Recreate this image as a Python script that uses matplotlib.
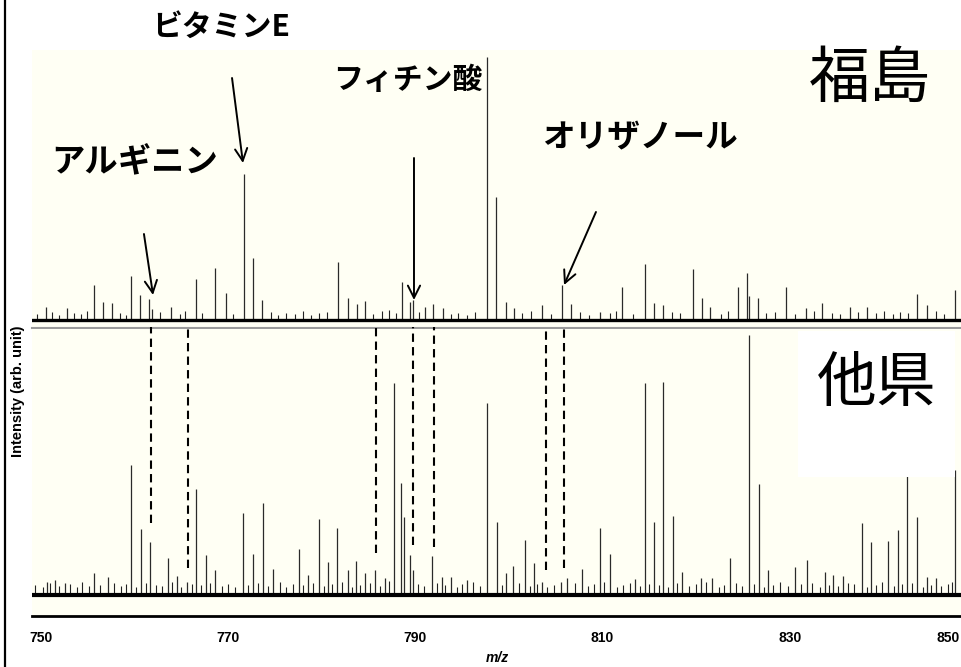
import matplotlib
matplotlib.use('Agg')

import matplotlib.pyplot as plt
from matplotlib.lines import Line2D
from matplotlib.patches import Rectangle

plt.rcParams['font.family'] = ['Liberation Sans', 'DejaVu Sans']
JP = ['Noto Sans CJK JP', 'DejaVu Sans']

# --- data (m/z and intensity, arb. unit) ---
# 福島 spectrum, main peaks
fuku_mz = [750.53, 752.78, 755.66, 756.62, 757.59, 759.62, 760.58, 761.54, 761.86, 763.89,
           766.56, 768.59, 769.76, 771.69, 772.65, 773.61, 781.73, 782.80, 783.76, 784.62,
           788.57, 789.42, 789.74, 791.03, 791.88, 792.95, 797.65, 798.61, 799.68, 800.53,
           803.53, 805.66, 806.62, 809.72, 812.07, 814.53, 815.49, 816.45, 819.66, 820.62,
           821.47, 824.47, 825.43, 825.64, 826.60, 829.59, 831.73, 833.44, 836.43, 838.25,
           843.59, 844.66, 847.65]
fuku_int = [13, 12, 35, 18, 17, 44, 25, 21, 11, 13,
            41, 52, 27, 146, 62, 20, 58, 22, 16, 19,
            38, 18, 20, 13, 16, 12, 263, 123, 18, 12,
            15, 35, 16, 8, 33, 56, 17, 15, 51, 22,
            13, 33, 47, 24, 22, 33, 12, 17, 13, 13,
            26, 15, 30]
# 福島 spectrum, small noise peaks
fuku_noise_mz = [749.6, 751.2, 751.9, 753.5, 754.3, 754.9, 758.4, 759.1, 762.7, 764.8,
                 765.4, 767.2, 770.5, 774.6, 775.3, 776.2, 777.1, 778.0, 778.8, 779.7,
                 780.6, 785.5, 786.4, 787.2, 787.9, 790.4, 793.8, 794.6, 795.5, 796.4,
                 801.4, 802.3, 804.5, 807.6, 808.5, 810.8, 811.4, 813.2, 817.4, 818.3,
                 822.6, 823.4, 827.5, 828.4, 830.6, 832.6, 834.5, 835.4, 837.3, 839.2,
                 840.1, 841.0, 841.8, 842.6, 845.6, 846.5]
fuku_noise_int = [6, 8, 5, 7, 6, 9, 7, 5, 8, 6,
                  9, 7, 6, 8, 5, 7, 6, 9, 5, 7,
                  8, 6, 9, 10, 7, 8, 6, 7, 5, 8,
                  7, 9, 6, 8, 5, 7, 9, 6, 8, 7,
                  6, 9, 7, 8, 6, 9, 7, 6, 8, 7,
                  9, 6, 8, 7, 9, 6]

# 他県 spectrum, main peaks
other_mz = [750.64, 751.50, 752.56, 755.66, 757.16, 759.62, 760.68, 761.65, 763.57, 764.53,
            765.60, 766.56, 767.63, 768.59, 771.58, 772.65, 773.72, 774.79, 777.56, 778.53,
            779.70, 780.66, 781.62, 782.80, 783.65, 784.62, 785.68, 786.75, 787.71, 788.50,
            788.80, 789.42, 789.74, 791.77, 792.84, 793.80, 795.51, 797.65, 798.72, 799.68,
            800.43, 801.71, 802.67, 803.53, 805.56, 806.20, 807.80, 809.72, 810.79, 813.46,
            814.53, 815.49, 816.45, 817.52, 818.48, 820.51, 821.69, 823.61, 825.64, 826.71,
            827.67, 830.56, 831.84, 833.76, 834.62, 835.68, 837.71, 838.68, 840.49, 841.56,
            842.52, 843.59, 844.66, 845.62, 847.65]
other_int = [13, 15, 12, 22, 18, 130, 66, 53, 37, 19,
             13, 106, 40, 25, 82, 41, 92, 26, 46, 20,
             76, 33, 67, 25, 34, 22, 25, 17, 212, 112,
             78, 40, 25, 39, 18, 18, 15, 192, 73, 22,
             29, 55, 32, 13, 13, 17, 26, 67, 41, 16,
             212, 73, 213, 79, 23, 17, 17, 37, 260, 111,
             25, 28, 35, 23, 20, 19, 72, 53, 54, 65,
             150, 78, 18, 17, 125]
# 他県 spectrum, small noise peaks
other_noise_mz = [749.4, 750.2, 751.0, 751.9, 753.1, 753.8, 754.4, 755.1, 756.3, 757.8,
                  758.5, 759.1, 760.2, 761.2, 762.3, 762.9, 764.0, 765.0, 766.1, 767.1,
                  768.1, 769.3, 770.0, 770.7, 772.1, 773.2, 774.2, 775.5, 776.2, 776.9,
                  778.0, 779.1, 780.2, 781.1, 782.2, 783.2, 784.1, 785.1, 786.2, 787.2,
                  790.3, 790.9, 792.3, 793.2, 794.4, 795.0, 796.2, 796.9, 799.2, 801.1,
                  802.2, 803.0, 804.1, 804.8, 807.1, 808.4, 809.1, 810.2, 811.5, 812.2,
                  812.9, 814.0, 815.0, 816.0, 817.0, 818.0, 819.2, 820.0, 821.1, 822.4,
                  823.0, 824.3, 824.9, 826.2, 827.2, 828.2, 829.0, 829.8, 831.2, 832.4,
                  833.2, 834.2, 835.2, 836.2, 836.9, 838.2, 839.2, 839.9, 841.1, 842.0,
                  843.1, 844.2, 845.1, 846.2, 846.9, 847.3]
other_noise_int = [10, 8, 12, 9, 11, 8, 13, 9, 10, 12,
                   9, 11, 8, 12, 10, 9, 13, 8, 11, 10,
                   12, 9, 11, 8, 10, 12, 9, 13, 8, 11,
                   10, 12, 9, 11, 13, 8, 10, 12, 9, 14,
                   11, 9, 12, 10, 8, 11, 13, 9, 10, 12,
                   9, 11, 8, 10, 12, 9, 11, 13, 8, 10,
                   12, 9, 11, 10, 8, 12, 9, 11, 13, 8,
                   10, 12, 9, 11, 8, 10, 13, 9, 11, 12,
                   8, 10, 9, 12, 11, 8, 10, 13, 9, 11,
                   12, 8, 10, 9, 11, 13]

# dashed guide lines (m/z, lower end in 他県 intensity)
guide_mz = [761.75, 765.71, 785.79, 789.74, 791.99, 803.95, 805.88]
guide_end = [72, 27, 42, 50, 48, 25, 27]

# compound labels: name, text position, arrow start, arrow tip
labels = ['ビタミンE', 'アルギニン', 'フィチン酸', 'オリザノール']
label_pos = [(769.23, 293), (760.04, 157), (789.21, 240), (814.0, 182)]
label_size = [21.5, 24, 21.5, 23.5]
arrow_from = [(770.41, 242), (761.00, 86), (789.85, 162), (809.29, 108)]
arrow_to = [(771.58, 157), (761.97, 25), (789.85, 20), (805.88, 35)]

tick_vals = [750, 770, 790, 810, 830]
XMIN, XMAX = 749.04, 848.29
BG = '#fffff4'

fig = plt.figure(figsize=(9.61, 6.67), dpi=100)
W, H = 961.0, 667.0
ax_top = fig.add_axes([32 / W, 1 - 328 / H, 929 / W, 278 / H])
ax_bot = fig.add_axes([32 / W, 1 - 616 / H, 929 / W, 287 / H])

# top: 福島
ax_top.set_facecolor(BG)
ax_top.set_xlim(XMIN, XMAX)
ax_top.set_ylim(-8, 270)
ax_top.vlines(fuku_noise_mz, 0, fuku_noise_int, color='#222222', lw=0.8)
ax_top.vlines(fuku_mz, 0, fuku_int, color='#2a2a2a', lw=0.9)
ax_top.axhline(0, color='black', lw=2.4)
for s in ['top', 'left', 'right']:
    ax_top.spines[s].set_visible(False)
ax_top.spines['bottom'].set_color('#9a9a9a')
ax_top.spines['bottom'].set_linewidth(1.5)
ax_top.set_xticks([])
ax_top.set_yticks([])

for name, pos, fs, a0, a1 in zip(labels, label_pos, label_size, arrow_from, arrow_to):
    ax_top.text(pos[0], pos[1], name, family=JP, fontweight='bold', fontsize=fs,
                ha='center', va='center', clip_on=False)
    ax_top.annotate('', xy=a1, xytext=a0,
                    arrowprops=dict(arrowstyle='->', lw=1.4, color='black',
                                    mutation_scale=22, shrinkA=0, shrinkB=0))
ax_top.text(838.57, 240, '福島', family=JP, fontsize=44, ha='center', va='center')

# bottom: 他県
ax_bot.set_facecolor(BG)
ax_bot.set_xlim(XMIN, XMAX)
ax_bot.set_ylim(-21, 266)
ax_bot.vlines(other_noise_mz, 0, other_noise_int, color='#222222', lw=0.8)
ax_bot.vlines(other_mz, 0, other_int, color='#2a2a2a', lw=0.9)
ax_bot.axhline(0, color='black', lw=3.0)
ax_bot.vlines(guide_mz, guide_end, 268, color='black', lw=1.5,
              linestyles=(0, (4, 2.5)), clip_on=False)
ax_bot.add_patch(Rectangle((830.88, 118), 16.77, 146, facecolor='white',
                           edgecolor='none', zorder=3))
ax_bot.text(839.32, 210, '他県', family=JP, fontsize=43, ha='center', va='center', zorder=4)
for s in ['top', 'left', 'right']:
    ax_bot.spines[s].set_visible(False)
ax_bot.spines['bottom'].set_color('black')
ax_bot.spines['bottom'].set_linewidth(2)
ax_bot.set_yticks([])
ax_bot.set_xticks(tick_vals)
ax_bot.set_xticklabels([str(v) for v in tick_vals], fontweight='bold', fontsize=10)
ax_bot.tick_params(axis='x', length=0, pad=11)

fig.text(948 / W, 1 - 638 / H, '850', fontweight='bold', fontsize=10, ha='center', va='center')
fig.text(497 / W, 1 - 658 / H, 'm/z', fontweight='bold', fontstyle='italic', fontsize=10,
         ha='center', va='center')
fig.text(18 / W, 1 - 391 / H, 'Intensity (arb. unit)', fontweight='bold', fontsize=10.5,
         rotation=90, ha='center', va='center')
fig.add_artist(Line2D([5 / W, 5 / W], [0, 1], color='black', lw=1.6))

fig.savefig('out.png', dpi=100)
